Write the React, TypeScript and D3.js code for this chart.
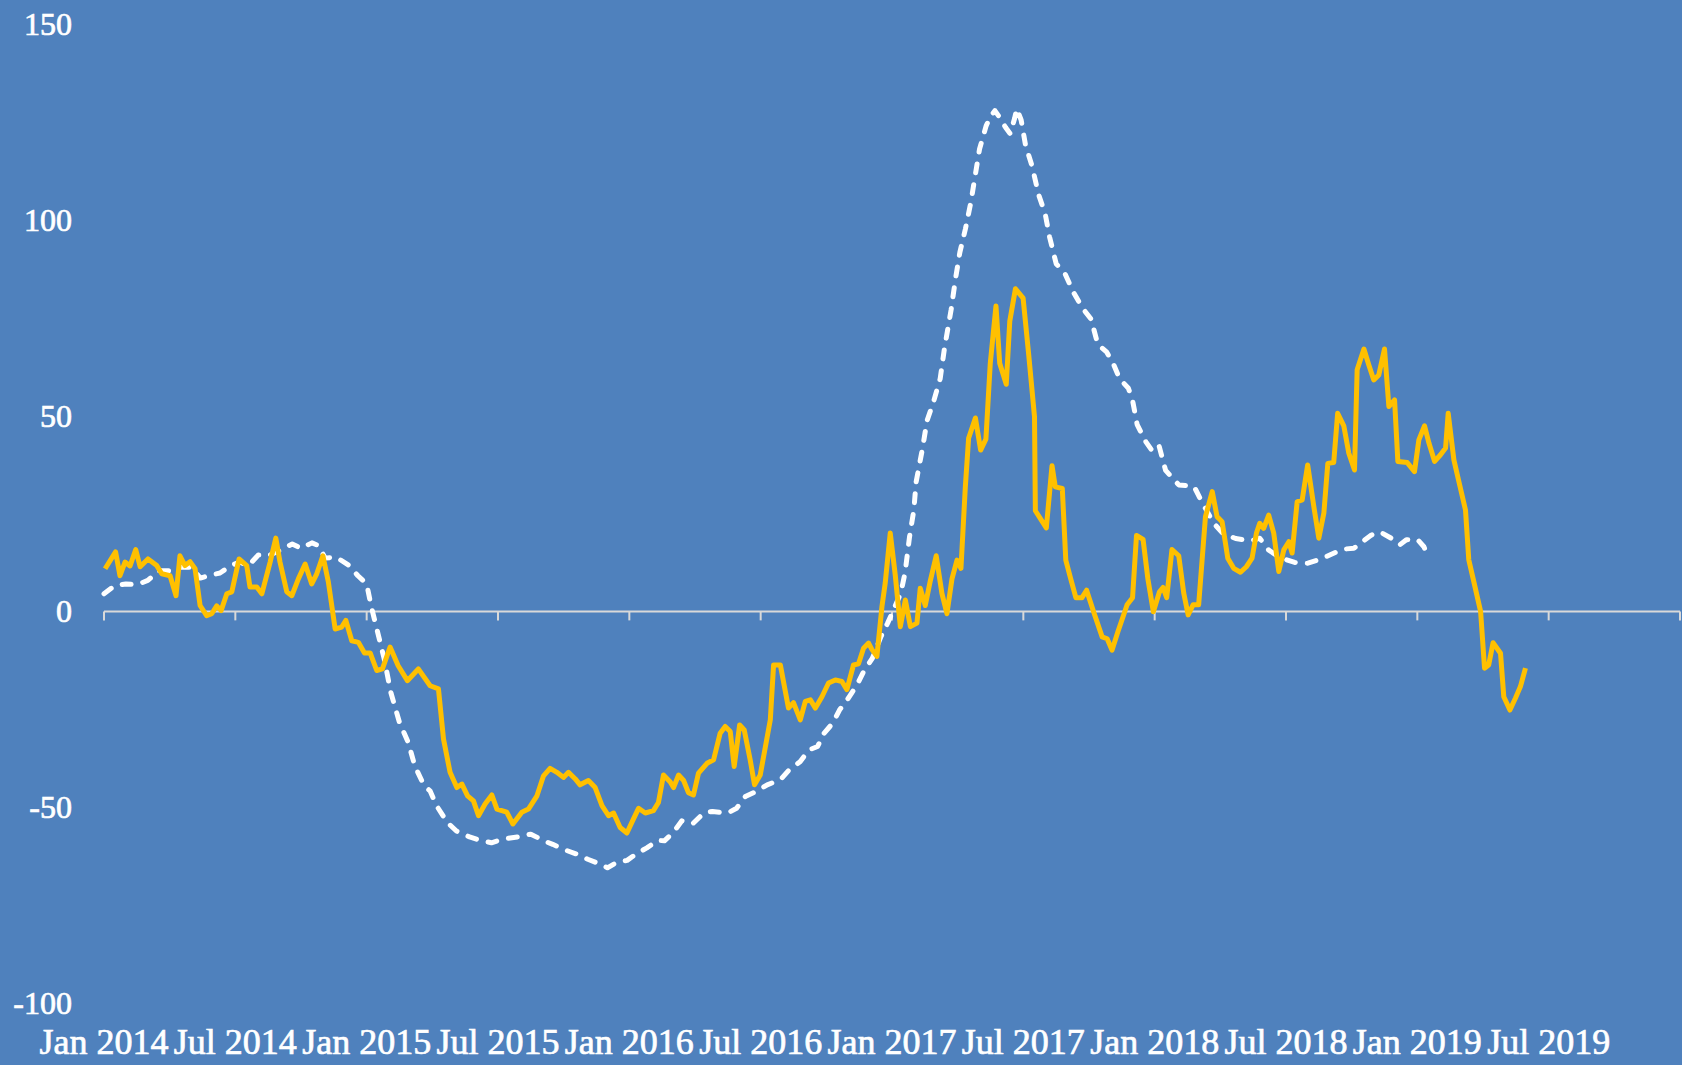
import React from 'react';
import * as d3 from 'd3';

// months since Jan 2014 and index values
const orangeMonths = [
  0.05, 0.53, 0.73, 0.96, 1.19, 1.45, 1.65, 2.01, 2.41, 2.64,
  3.02, 3.29, 3.47, 3.70, 3.93, 4.16, 4.39, 4.69, 4.92, 5.15,
  5.35, 5.61, 5.84, 6.17, 6.52, 6.67, 6.98, 7.21, 7.59, 7.85,
  8.04, 8.35, 8.58, 8.88, 9.19, 9.49, 9.72, 10.0, 10.25, 10.56,
  10.86, 11.05, 11.32, 11.62, 11.90, 12.16, 12.46, 12.72, 13.07, 13.44,
  13.86, 14.36, 14.90, 15.28, 15.51, 15.81, 16.12, 16.35, 16.61, 16.88,
  17.11, 17.41, 17.72, 17.95, 18.40, 18.68, 19.09, 19.39, 19.78, 20.08,
  20.38, 20.69, 20.99, 21.22, 21.53, 21.75, 22.13, 22.44, 22.75, 23.05,
  23.28, 23.58, 23.89, 24.19, 24.42, 24.73, 25.10, 25.33, 25.56, 25.87,
  26.02, 26.25, 26.48, 26.70, 26.93, 27.16, 27.55, 27.85, 28.15, 28.38,
  28.61, 28.79, 29.04, 29.25, 29.52, 29.72, 29.98, 30.44, 30.59, 30.90,
  31.27, 31.50, 31.81, 32.04, 32.27, 32.50, 32.80, 33.10, 33.41, 33.71,
  33.94, 34.24, 34.47, 34.70, 34.93, 35.08, 35.31, 35.54, 35.69, 35.92,
  36.15, 36.38, 36.61, 36.84, 37.14, 37.29, 37.52, 37.75, 38.02, 38.28,
  38.51, 38.74, 38.97, 39.15, 39.35, 39.50, 39.81, 40.05, 40.29, 40.49,
  40.75, 40.92, 41.22, 41.38, 41.64, 41.99, 42.25, 42.51, 42.55, 42.78,
  43.05, 43.31, 43.46, 43.78, 43.94, 44.15, 44.40, 44.68, 44.89, 45.21,
  45.60, 45.83, 46.05, 46.32, 46.59, 46.74, 46.99, 47.17, 47.47, 47.69,
  47.94, 48.22, 48.38, 48.55, 48.79, 49.10, 49.33, 49.53, 49.76, 50.01,
  50.32, 50.63, 50.85, 51.08, 51.34, 51.61, 51.92, 52.19, 52.45, 52.65,
  52.80, 52.98, 53.21, 53.44, 53.67, 53.90, 54.13, 54.28, 54.51, 54.74,
  54.99, 55.27, 55.50, 55.73, 55.91, 56.18, 56.36, 56.64, 56.87, 57.13,
  57.25, 57.56, 57.78, 58.01, 58.24, 58.50, 58.70, 58.96, 59.11, 59.54,
  59.87, 60.07, 60.33, 60.53, 60.79, 61.06, 61.29, 61.41, 61.67, 61.90,
  62.20, 62.35, 62.58, 62.89, 63.07, 63.26, 63.46, 63.80, 63.95, 64.23,
  64.48, 64.71, 64.94,
];
const orangeValues = [
  10.9, 15.2, 9.1, 12.6, 11.6, 15.8, 11.4, 13.4, 11.7, 9.6,
  9.1, 4.0, 14.2, 11.7, 12.7, 10.9, 1.5, -1.1, -0.6, 1.4,
  0.2, 4.5, 5.0, 13.4, 11.7, 6.2, 6.2, 4.5, 12.6, 18.7,
  12.6, 5.0, 4.0, 8.3, 12.1, 7.0, 9.6, 14.2, 7.5, -4.5,
  -4.0, -2.3, -7.5, -7.9, -10.6, -10.6, -15.1, -14.7, -9.1, -13.9,
  -17.7, -14.7, -19.0, -19.8, -32.6, -41.1, -45.0, -44.1, -47.1, -48.4,
  -52.2, -49.2, -46.9, -50.5, -51.3, -54.3, -51.3, -50.5, -47.1, -42.0,
  -40.1, -41.1, -42.4, -41.1, -42.8, -44.3, -43.2, -45.0, -49.6, -52.2,
  -51.5, -55.2, -56.6, -53.0, -50.3, -51.5, -50.9, -48.8, -41.8, -43.6,
  -45.0, -41.8, -43.2, -46.3, -46.9, -41.3, -38.8, -37.9, -31.1, -29.4,
  -30.7, -39.6, -29.0, -30.3, -37.9, -44.3, -41.8, -27.7, -13.7, -13.7,
  -24.7, -23.3, -27.7, -23.0, -22.6, -24.7, -21.8, -18.3, -17.5, -17.9,
  -20.0, -13.7, -13.4, -9.4, -8.1, -9.7, -11.5, 1.2, 7.2, 20.0,
  9.2, -3.9, 2.9, -3.9, -3.0, 5.9, 1.5, 7.8, 14.2, 4.6,
  -0.6, 8.3, 13.1, 11.0, 31.8, 44.2, 49.4, 41.2, 44.0, 63.4,
  78.0, 63.4, 58.0, 74.1, 82.4, 80.0, 65.3, 49.7, 25.7, 23.7,
  21.3, 37.2, 31.8, 31.4, 13.1, 8.6, 3.5, 3.5, 5.4, -0.1,
  -6.5, -7.0, -9.9, -5.2, -0.8, 1.7, 3.5, 19.4, 18.4, 8.3,
  -0.1, 5.0, 6.1, 3.5, 15.8, 14.2, 4.6, -0.9, 1.7, 1.7,
  24.2, 30.6, 24.2, 22.9, 13.6, 11.0, 10.0, 11.4, 13.6, 20.0,
  22.5, 21.2, 24.6, 20.0, 10.2, 15.7, 17.8, 14.9, 28.0, 28.5,
  37.4, 26.8, 18.7, 25.1, 37.8, 38.0, 50.6, 47.4, 40.4, 36.1,
  61.7, 67.0, 63.0, 59.1, 60.4, 67.0, 52.3, 54.0, 38.3, 38.0,
  35.7, 43.8, 47.4, 43.0, 38.3, 40.0, 41.7, 50.6, 38.7, 33.1,
  25.9, 13.2, 7.6, 0.0, -14.5, -13.7, -8.0, -10.7, -21.8, -25.2,
  -22.2, -19.2, -14.5,
];

const whiteMonths = [
  0, 0.5, 1, 1.5, 2, 2.5, 3, 3.5, 4, 4.4,
  4.9, 5.3, 5.8, 6.2, 6.6, 7.05, 7.5, 8.0, 8.6, 9.0,
  9.5, 9.8, 10.1, 10.6, 11.2, 11.6, 12.0, 12.2, 12.5, 12.8,
  13.1, 13.5, 13.9, 14.2, 14.6, 14.9, 15.2, 15.7, 16.1, 16.7,
  17.2, 17.7, 18.2, 18.9, 19.5, 20.1, 20.5, 21.0, 21.6, 22.1,
  22.7, 23.0, 23.4, 23.9, 24.3, 24.8, 25.3, 25.6, 26.0, 26.4,
  26.9, 27.4, 27.8, 28.5, 28.9, 29.3, 29.8, 30.3, 30.9, 31.3,
  31.8, 32.2, 32.6, 32.9, 33.3, 33.6, 34.0, 34.4, 34.7, 35.1,
  35.5, 35.8, 36.2, 36.4, 36.6, 36.8, 37.0, 37.1, 37.4, 37.6,
  37.9, 38.2, 38.4, 38.7, 38.9, 39.1, 39.35, 39.6, 39.8, 40.0,
  40.3, 40.5, 40.7, 40.95, 41.2, 41.4, 41.6, 41.7, 41.9, 42.1,
  42.4, 42.7, 43.0, 43.2, 43.5, 43.9, 44.3, 44.7, 45.1, 45.4,
  45.8, 46.1, 46.4, 46.8, 47.0, 47.2, 47.6, 47.9, 48.2, 48.5,
  49.1, 49.8, 50.2, 50.7, 51.1, 51.7, 52.4, 52.8, 53.2, 53.7,
  54.4, 55.0, 55.6, 56.2, 56.6, 57.1, 57.5, 57.9, 58.3, 58.8,
  59.2, 59.5, 60.0, 60.3, 60.5,
];
const whiteValues = [
  4.5, 6.6, 7.0, 6.8, 7.9, 10.4, 10.4, 11.3, 11.3, 8.5,
  9.3, 9.8, 11.7, 12.6, 11.7, 14.4, 14.2, 15.5, 17.2, 16.1,
  17.5, 16.8, 13.6, 13.9, 11.7, 9.1, 7.0, 1.5, -5.3, -12.1,
  -20.6, -28.4, -33.5, -39.5, -44.2, -45.9, -49.7, -54.0, -56.1, -57.6,
  -58.5, -59.1, -58.2, -57.6, -56.9, -58.6, -59.5, -60.8, -62.0, -63.3,
  -64.6, -65.5, -64.2, -63.6, -62.0, -60.4, -58.5, -58.6, -56.5, -53.5,
  -54.2, -51.5, -51.1, -51.5, -50.3, -47.3, -46.0, -44.3, -43.0, -40.5,
  -38.4, -35.4, -34.5, -31.1, -28.5, -25.2, -22.2, -18.8, -15.4, -12.0,
  -6.4, -3.0, 2.1, 4.6, 10.0, 19.0, 26.0, 33.0, 41.8, 48.7,
  53.6, 59.4, 67.3, 77.0, 84.9, 91.7, 97.6, 104.4, 111.3, 118.1,
  124.0, 126.4, 127.9, 125.9, 123.5, 122.0, 125.9, 128.4, 125.5, 119.1,
  113.7, 106.4, 101.5, 95.6, 88.8, 86.3, 81.4, 77.5, 74.6, 68.2,
  66.3, 63.4, 59.4, 57.0, 53.6, 47.7, 43.3, 40.9, 42.3, 36.0,
  32.3, 31.9, 27.5, 22.5, 20.0, 18.6, 18.0, 18.7, 15.7, 13.8,
  12.5, 12.3, 13.4, 14.9, 15.9, 16.1, 17.8, 19.5, 20.3, 18.7,
  17.0, 18.3, 18.4, 16.5, 14.0,
];

const tickMonths = [0, 6, 12, 18, 24, 30, 36, 42, 48, 54, 60, 66, 72];
const tickLabels = [
  'Jan 2014', 'Jul 2014', 'Jan 2015', 'Jul 2015', 'Jan 2016', 'Jul 2016',
  'Jan 2017', 'Jul 2017', 'Jan 2018', 'Jul 2018', 'Jan 2019', 'Jul 2019',
];
const yTicks = [150, 100, 50, 0, -50, -100];

const W = 1682;
const H = 1065;
const font = '"Liberation Serif", "Times New Roman", serif';

export default function App() {
  const x = d3.scaleLinear().domain([0, 72]).range([104, 1680]);
  const y = d3.scaleLinear().domain([-100, 150]).range([1002.9, 24.1]);

  const line = d3.line<[number, number]>()
    .x(d => x(d[0]))
    .y(d => y(d[1]));

  const orange = d3.zip(orangeMonths, orangeValues) as [number, number][];
  const white = d3.zip(whiteMonths, whiteValues) as [number, number][];

  return (
    <svg width={W} height={H} style={{ position: 'fixed', left: 0, top: 0 }}>
      <rect width={W} height={H} fill="#4F81BD" />

      {yTicks.map(t => (
        <text key={t} x={72} y={y(t)} textAnchor="end" dominantBaseline="central"
          fill="#fff" stroke="#fff" strokeWidth={0.7} fontSize={32} fontFamily={font}>{t}</text>
      ))}

      <line x1={x(0)} x2={x(72)} y1={y(0)} y2={y(0)} stroke="#D9D9D9" strokeWidth={2} />
      {tickMonths.map(m => (
        <line key={m} x1={x(m)} x2={x(m)} y1={y(0)} y2={y(0) + 9} stroke="#D9D9D9" strokeWidth={2} />
      ))}

      {tickLabels.map((lab, i) => (
        <text key={lab} x={x(tickMonths[i])} y={1054} textAnchor="middle"
          fill="#fff" stroke="#fff" strokeWidth={0.7} fontSize={36} fontFamily={font}>{lab}</text>
      ))}

      <path d={line(white) ?? ''} fill="none" stroke="#fff" strokeWidth={5}
        strokeDasharray="9 12" strokeLinecap="round" strokeLinejoin="round" />
      <path d={line(orange) ?? ''} fill="none" stroke="#FFC000" strokeWidth={5}
        strokeLinejoin="round" />
    </svg>
  );
}
